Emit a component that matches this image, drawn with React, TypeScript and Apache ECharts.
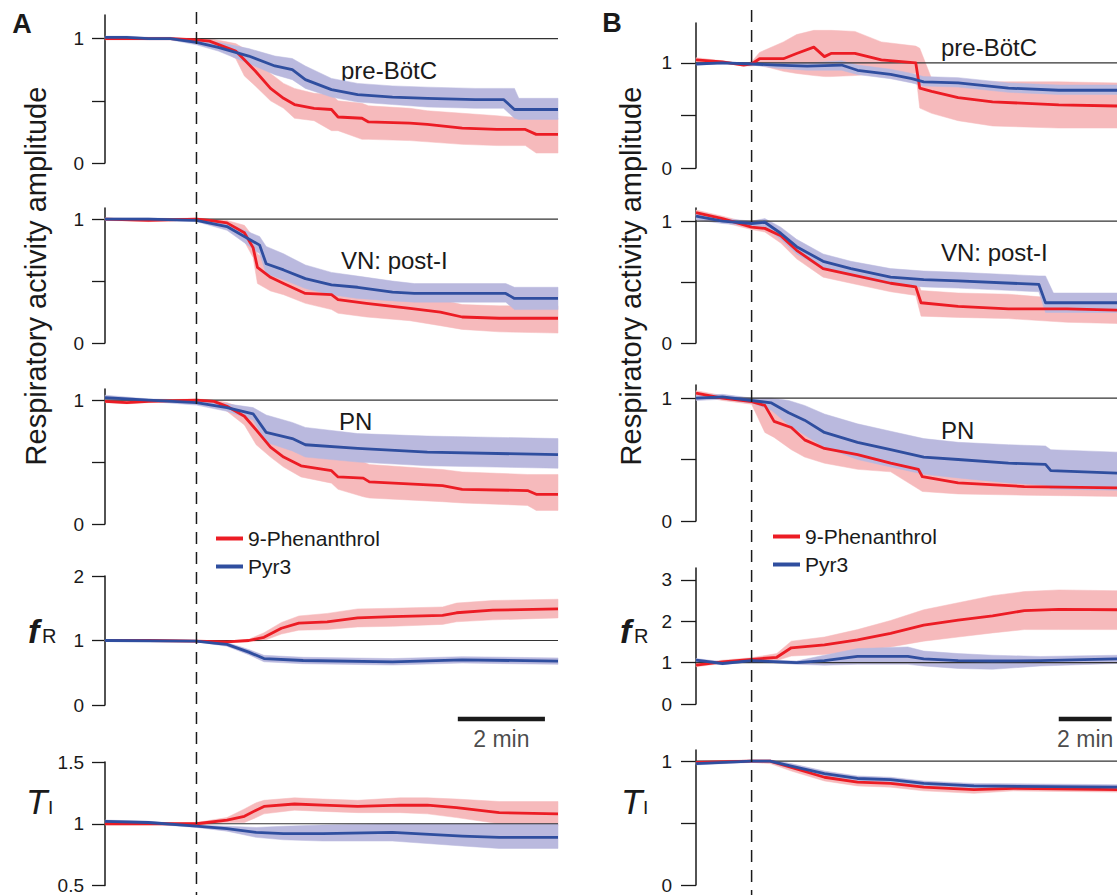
import React, { useEffect, useRef } from "react";
import * as echarts from "echarts";

const FONT = "'Liberation Sans', Arial, Helvetica, sans-serif";
const RED = "#ec1c24";
const BLUE = "#2f4e9f";
const RED_BAND = "#f6babc";
const BLUE_BAND = "#bab9de";
const INK = "#1a1a1a";

const SERIES_NAMES = ["9-Phenanthrol", "Pyr3"];
const PANEL_TITLES = ["pre-BötC", "VN: post-I", "PN"];
const Y_TITLE = "Respiratory activity amplitude";
const SCALE_LABEL = "2 min";
const DRUG_TIME = 2.1; // min
const A_DURATION = 10.4;
const B_DURATION = 15.9;
const A_SCALEBAR = [8.1, 10.1];
const B_SCALEBAR = [13.7, 15.7];

// rows: [time (min), mean, lower, upper]
const A_preBotC_phen = [
  [0, 1.0, 0.99, 1.01], [0.5, 1.0, 0.99, 1.01], [1.0, 1.0, 0.99, 1.01], [1.5, 1.0, 0.99, 1.01],
  [2.1, 0.99, 0.98, 1.0], [2.4, 0.98, 0.95, 1.0], [2.7, 0.94, 0.9, 0.98], [3.0, 0.9, 0.84, 0.96],
  [3.2, 0.83, 0.7, 0.92], [3.45, 0.74, 0.62, 0.86], [3.8, 0.6, 0.5, 0.72], [4.1, 0.52, 0.44, 0.64],
  [4.35, 0.47, 0.36, 0.6], [4.8, 0.44, 0.34, 0.56], [5.2, 0.43, 0.26, 0.55], [5.35, 0.37, 0.26, 0.5],
  [5.9, 0.36, 0.19, 0.48], [6.05, 0.33, 0.19, 0.46], [7.0, 0.32, 0.18, 0.44], [7.4, 0.31, 0.17, 0.42],
  [8.2, 0.28, 0.15, 0.4], [9.0, 0.27, 0.14, 0.38], [9.65, 0.27, 0.14, 0.36], [9.9, 0.23, 0.08, 0.36],
  [10.4, 0.23, 0.08, 0.36],
];
const A_preBotC_pyr3 = [
  [0, 1.01, 1.0, 1.02], [0.5, 1.01, 1.0, 1.02], [1.0, 1.0, 0.99, 1.01], [1.5, 1.0, 0.99, 1.01],
  [2.1, 0.97, 0.95, 0.99], [2.6, 0.93, 0.9, 0.97], [3.3, 0.86, 0.8, 0.92], [3.9, 0.78, 0.71, 0.86],
  [4.3, 0.75, 0.67, 0.84], [4.6, 0.67, 0.6, 0.78], [5.2, 0.59, 0.53, 0.68], [5.8, 0.55, 0.49, 0.64],
  [6.6, 0.53, 0.47, 0.62], [7.4, 0.52, 0.45, 0.61], [8.5, 0.51, 0.44, 0.6], [9.15, 0.51, 0.44, 0.6],
  [9.4, 0.43, 0.36, 0.6], [9.5, 0.43, 0.35, 0.52], [10.4, 0.43, 0.35, 0.52],
];
const A_VN_phen = [
  [0, 1.0, 0.99, 1.01], [1.0, 0.99, 0.98, 1.0], [2.1, 1.0, 0.99, 1.01], [2.4, 0.99, 0.97, 1.0],
  [2.8, 0.97, 0.94, 0.99], [3.2, 0.89, 0.82, 0.95], [3.4, 0.77, 0.69, 0.86], [3.5, 0.61, 0.48, 0.72],
  [3.8, 0.53, 0.42, 0.64], [4.1, 0.48, 0.39, 0.58], [4.6, 0.4, 0.32, 0.5], [5.2, 0.39, 0.27, 0.49],
  [5.35, 0.35, 0.24, 0.46], [6.0, 0.32, 0.21, 0.43], [7.0, 0.28, 0.18, 0.39], [7.7, 0.25, 0.14, 0.35],
  [8.2, 0.21, 0.11, 0.31], [9.05, 0.2, 0.09, 0.3], [10.4, 0.2, 0.08, 0.3],
];
const A_VN_pyr3 = [
  [0, 1.0, 0.99, 1.01], [1.0, 1.0, 0.99, 1.01], [2.1, 0.99, 0.98, 1.0], [2.8, 0.94, 0.91, 0.97],
  [3.2, 0.86, 0.81, 0.91], [3.55, 0.79, 0.72, 0.86], [3.7, 0.64, 0.56, 0.78], [4.1, 0.59, 0.51, 0.72],
  [4.6, 0.52, 0.44, 0.63], [5.2, 0.47, 0.39, 0.57], [5.8, 0.45, 0.36, 0.54], [6.6, 0.41, 0.34, 0.5],
  [7.1, 0.4, 0.33, 0.48], [9.2, 0.4, 0.33, 0.48], [9.4, 0.36, 0.27, 0.45], [10.4, 0.36, 0.27, 0.45],
];
const A_PN_phen = [
  [0, 0.99, 0.98, 1.0], [0.5, 0.98, 0.97, 0.99], [1.0, 0.99, 0.98, 1.0], [2.1, 1.0, 0.99, 1.01],
  [2.5, 0.99, 0.97, 1.0], [2.8, 0.95, 0.91, 0.98], [3.2, 0.87, 0.8, 0.93], [3.47, 0.76, 0.64, 0.86],
  [3.8, 0.62, 0.54, 0.73], [4.1, 0.54, 0.46, 0.66], [4.5, 0.47, 0.38, 0.6], [5.2, 0.43, 0.33, 0.56],
  [5.35, 0.38, 0.28, 0.52], [5.93, 0.37, 0.22, 0.5], [6.07, 0.34, 0.21, 0.48], [7.75, 0.31, 0.18, 0.44],
  [8.2, 0.28, 0.17, 0.42], [9.7, 0.27, 0.15, 0.4], [9.9, 0.24, 0.11, 0.4], [10.4, 0.24, 0.11, 0.4],
];
const A_PN_pyr3 = [
  [0, 1.02, 1.0, 1.04], [1.0, 1.0, 0.99, 1.01], [2.1, 0.98, 0.96, 1.0], [2.8, 0.94, 0.91, 0.97],
  [3.4, 0.89, 0.84, 0.94], [3.7, 0.74, 0.66, 0.88], [4.3, 0.69, 0.59, 0.82], [4.6, 0.64, 0.54, 0.78],
  [5.8, 0.61, 0.5, 0.73], [7.4, 0.58, 0.47, 0.71], [10.4, 0.56, 0.45, 0.69],
];
const A_fR_phen = [
  [0, 1.0, 0.99, 1.01], [1.0, 1.0, 0.99, 1.01], [2.1, 0.99, 0.98, 1.0], [2.8, 0.98, 0.97, 0.99],
  [3.3, 1.0, 0.98, 1.02], [3.65, 1.05, 1.0, 1.12], [4.05, 1.19, 1.1, 1.28], [4.45, 1.27, 1.16, 1.38],
  [5.1, 1.29, 1.17, 1.42], [5.8, 1.35, 1.21, 1.49], [6.6, 1.37, 1.22, 1.5], [7.75, 1.39, 1.25, 1.52],
  [8.07, 1.43, 1.29, 1.58], [8.9, 1.47, 1.32, 1.62], [10.4, 1.49, 1.35, 1.64],
];
const A_fR_pyr3 = [
  [0, 1.0, 0.99, 1.01], [2.1, 0.99, 0.98, 1.0], [2.5, 0.96, 0.94, 0.98], [2.8, 0.94, 0.91, 0.97],
  [3.3, 0.82, 0.78, 0.86], [3.65, 0.72, 0.67, 0.77], [4.55, 0.69, 0.64, 0.74], [6.6, 0.67, 0.62, 0.72],
  [8.2, 0.7, 0.65, 0.75], [10.4, 0.68, 0.63, 0.73],
];
const A_TI_phen = [
  [0, 1.0, 0.99, 1.01], [2.1, 1.0, 0.99, 1.01], [2.8, 1.03, 1.01, 1.05], [3.2, 1.06, 1.01, 1.12],
  [3.47, 1.11, 1.05, 1.17], [3.65, 1.14, 1.08, 1.19], [4.35, 1.16, 1.11, 1.21], [5.0, 1.15, 1.1, 1.2],
  [5.8, 1.14, 1.09, 1.19], [6.77, 1.15, 1.09, 1.21], [7.4, 1.15, 1.08, 1.21], [8.07, 1.13, 1.05, 1.2],
  [9.05, 1.09, 1.0, 1.18], [10.4, 1.08, 0.98, 1.18],
];
const A_TI_pyr3 = [
  [0, 1.02, 1.01, 1.03], [1.0, 1.01, 1.0, 1.02], [2.1, 0.98, 0.97, 0.99], [2.8, 0.96, 0.94, 0.98],
  [3.47, 0.93, 0.89, 0.97], [4.1, 0.92, 0.87, 0.98], [5.0, 0.92, 0.86, 0.99], [6.6, 0.93, 0.86, 1.0],
  [8.2, 0.9, 0.82, 1.0], [9.05, 0.89, 0.8, 1.0], [10.4, 0.89, 0.8, 1.0],
];

const B_preBotC_phen = [
  [0, 1.03, 1.01, 1.05], [1.0, 1.01, 1.0, 1.02], [1.8, 0.98, 0.97, 0.99], [2.1, 0.99, 0.97, 1.01],
  [2.4, 1.04, 0.98, 1.1], [3.3, 1.04, 0.92, 1.2], [3.8, 1.09, 0.9, 1.27], [4.45, 1.15, 0.88, 1.31],
  [4.85, 1.06, 0.87, 1.31], [5.1, 1.09, 0.87, 1.31], [6.0, 1.09, 0.88, 1.3], [7.0, 1.03, 0.9, 1.2],
  [8.3, 1.0, 0.9, 1.16], [8.45, 0.76, 0.57, 1.14], [8.9, 0.73, 0.52, 0.85], [9.9, 0.67, 0.45, 0.83],
  [11.2, 0.63, 0.4, 0.82], [13.7, 0.6, 0.38, 0.82], [15.9, 0.59, 0.38, 0.81],
];
const B_preBotC_pyr3 = [
  [0, 0.99, 0.98, 1.0], [1.0, 1.0, 0.99, 1.01], [2.1, 0.99, 0.98, 1.0], [3.05, 0.98, 0.95, 1.0],
  [4.2, 0.97, 0.93, 1.0], [5.5, 0.98, 0.93, 1.02], [6.1, 0.93, 0.89, 0.98], [7.35, 0.89, 0.85, 0.94],
  [8.15, 0.85, 0.81, 0.9], [8.6, 0.82, 0.78, 0.87], [9.9, 0.81, 0.77, 0.86], [11.8, 0.76, 0.72, 0.81],
  [13.7, 0.74, 0.7, 0.79], [15.9, 0.74, 0.7, 0.79],
];
const B_VN_phen = [
  [0, 1.07, 1.04, 1.09], [1.0, 1.02, 0.99, 1.04], [2.1, 0.95, 0.93, 0.98], [2.6, 0.94, 0.91, 0.98],
  [3.2, 0.88, 0.82, 0.94], [3.8, 0.76, 0.69, 0.83], [4.8, 0.61, 0.54, 0.68], [5.85, 0.56, 0.49, 0.63],
  [7.35, 0.49, 0.42, 0.57], [8.3, 0.46, 0.39, 0.54], [8.5, 0.33, 0.22, 0.43], [9.9, 0.3, 0.21, 0.41],
  [11.8, 0.28, 0.2, 0.4], [14.0, 0.28, 0.17, 0.36], [15.9, 0.27, 0.16, 0.36],
];
const B_VN_pyr3 = [
  [0, 1.04, 1.01, 1.07], [1.0, 1.0, 0.98, 1.02], [2.1, 0.98, 0.96, 1.0], [2.6, 0.99, 0.95, 1.02],
  [3.2, 0.9, 0.85, 0.95], [3.8, 0.79, 0.73, 0.85], [4.8, 0.67, 0.61, 0.73], [5.85, 0.61, 0.55, 0.67],
  [7.35, 0.54, 0.48, 0.61], [8.6, 0.52, 0.46, 0.59], [9.9, 0.51, 0.45, 0.58], [12.95, 0.48, 0.42, 0.55],
  [13.2, 0.33, 0.25, 0.55], [13.5, 0.33, 0.25, 0.41], [15.9, 0.33, 0.25, 0.41],
];
const B_PN_phen = [
  [0, 1.04, 1.02, 1.06], [1.0, 1.0, 0.98, 1.02], [2.1, 0.97, 0.95, 0.99], [2.6, 0.94, 0.72, 0.98],
  [2.95, 0.81, 0.68, 0.92], [3.6, 0.76, 0.58, 0.88], [4.1, 0.66, 0.52, 0.79], [4.85, 0.59, 0.47, 0.71],
  [6.1, 0.54, 0.42, 0.65], [7.35, 0.47, 0.4, 0.56], [8.4, 0.42, 0.26, 0.52], [8.55, 0.36, 0.24, 0.45],
  [9.9, 0.31, 0.22, 0.4], [12.4, 0.28, 0.21, 0.36], [15.9, 0.27, 0.2, 0.35],
];
const B_PN_pyr3 = [
  [0, 1.0, 0.98, 1.02], [1.0, 1.01, 0.99, 1.03], [2.1, 0.98, 0.96, 1.0], [2.85, 0.96, 0.9, 1.0],
  [3.5, 0.88, 0.78, 0.98], [4.1, 0.82, 0.7, 0.94], [4.85, 0.72, 0.6, 0.87], [6.1, 0.64, 0.5, 0.79],
  [7.35, 0.58, 0.44, 0.73], [8.6, 0.52, 0.38, 0.67], [9.9, 0.5, 0.35, 0.64], [11.8, 0.47, 0.31, 0.62],
  [13.2, 0.46, 0.29, 0.61], [13.4, 0.41, 0.26, 0.58], [15.9, 0.39, 0.25, 0.56],
];
const B_fR_phen = [
  [0, 0.94, 0.9, 0.98], [1.0, 1.02, 0.98, 1.06], [2.1, 1.08, 1.04, 1.12], [3.05, 1.13, 1.05, 1.22],
  [3.6, 1.36, 1.16, 1.52], [4.85, 1.43, 1.2, 1.62], [6.1, 1.55, 1.28, 1.8], [7.35, 1.71, 1.38, 2.02],
  [8.6, 1.91, 1.52, 2.28], [9.9, 2.03, 1.62, 2.45], [11.2, 2.13, 1.72, 2.62], [12.4, 2.26, 1.8, 2.72],
  [13.7, 2.29, 1.8, 2.76], [15.9, 2.28, 1.8, 2.74],
];
const B_fR_pyr3 = [
  [0, 1.06, 1.02, 1.1], [1.0, 0.98, 0.95, 1.02], [2.1, 1.05, 1.02, 1.08], [3.8, 1.0, 0.96, 1.04],
  [4.85, 1.05, 0.94, 1.18], [6.1, 1.15, 0.96, 1.34], [8.0, 1.15, 0.96, 1.38], [8.6, 1.09, 0.92, 1.28],
  [9.9, 1.05, 0.86, 1.22], [11.2, 1.04, 0.84, 1.18], [13.0, 1.05, 0.92, 1.15], [15.9, 1.09, 0.98, 1.18],
];
const B_TI_phen = [
  [0, 0.99, 0.98, 1.0], [2.1, 1.0, 0.99, 1.01], [2.8, 1.0, 0.98, 1.01], [3.6, 0.95, 0.92, 0.97],
  [4.85, 0.87, 0.84, 0.9], [6.1, 0.83, 0.8, 0.86], [7.35, 0.82, 0.79, 0.84], [8.6, 0.79, 0.76, 0.82],
  [10.5, 0.77, 0.74, 0.8], [12.0, 0.78, 0.76, 0.8], [15.9, 0.77, 0.75, 0.79],
];
const B_TI_pyr3 = [
  [0, 0.98, 0.97, 0.99], [2.1, 1.0, 0.99, 1.01], [2.8, 1.0, 0.99, 1.01], [3.6, 0.96, 0.94, 0.98],
  [4.85, 0.9, 0.88, 0.92], [6.1, 0.86, 0.84, 0.88], [7.35, 0.85, 0.83, 0.87], [8.6, 0.82, 0.8, 0.84],
  [10.5, 0.8, 0.78, 0.82], [15.9, 0.79, 0.77, 0.81],
];

// layout
const COLS = [
  { left: 105, width: 453, duration: A_DURATION, tickLen: 13, labelMargin: 21, scaleBar: A_SCALEBAR },
  { left: 696, width: 421, duration: B_DURATION, tickLen: 15, labelMargin: 24, scaleBar: B_SCALEBAR },
];

const PANELS = [
  { col: 0, top: 15, height: 148, min: 0, max: 1.19, ticks: [0, 0.5, 1], labels: [0, 1], red: A_preBotC_phen, blue: A_preBotC_pyr3 },
  { col: 0, top: 208, height: 135, min: 0, max: 1.09, ticks: [0, 0.5, 1], labels: [0, 1], red: A_VN_phen, blue: A_VN_pyr3 },
  { col: 0, top: 389, height: 135, min: 0, max: 1.09, ticks: [0, 0.5, 1], labels: [0, 1], red: A_PN_phen, blue: A_PN_pyr3 },
  { col: 0, top: 576, height: 129, min: 0, max: 2, ticks: [0, 1, 2], labels: [0, 1, 2], red: A_fR_phen, blue: A_fR_pyr3 },
  { col: 0, top: 762, height: 124, min: 0.5, max: 1.5, ticks: [0.5, 1, 1.5], labels: [0.5, 1, 1.5], red: A_TI_phen, blue: A_TI_pyr3 },
  { col: 1, top: 23, height: 145, min: 0, max: 1.38, ticks: [0, 0.5, 1], labels: [0, 1], red: B_preBotC_phen, blue: B_preBotC_pyr3 },
  { col: 1, top: 208, height: 135, min: 0, max: 1.107, ticks: [0, 0.5, 1], labels: [0, 1], red: B_VN_phen, blue: B_VN_pyr3 },
  { col: 1, top: 385, height: 136, min: 0, max: 1.106, ticks: [0, 0.5, 1], labels: [0, 1], red: B_PN_phen, blue: B_PN_pyr3 },
  { col: 1, top: 568, height: 136, min: 0, max: 3.29, ticks: [0, 1, 2, 3], labels: [0, 1, 2, 3], red: B_fR_phen, blue: B_fR_pyr3 },
  { col: 1, top: 750, height: 135, min: 0, max: 1.09, ticks: [0, 0.5, 1], labels: [0, 1], red: B_TI_phen, blue: B_TI_pyr3 },
];

function bandSeries(rows: number[][], color: string, gi: number) {
  return {
    type: "custom",
    xAxisIndex: gi,
    yAxisIndex: gi,
    silent: true,
    z: 1,
    data: rows.map((r) => [r[0], r[2], r[3]]),
    encode: { x: 0, y: [1, 2] },
    renderItem: (params: any, api: any) => {
      if (params.dataIndex !== 0) return { type: "group", children: [] };
      const upper = rows.map((r) => api.coord([r[0], r[3]]));
      const lower = rows.map((r) => api.coord([r[0], r[2]])).reverse();
      return {
        type: "polygon",
        shape: { points: upper.concat(lower) },
        style: { fill: color, stroke: color, lineWidth: 0.5 },
      };
    },
  };
}

function meanSeries(rows: number[][], color: string, name: string, gi: number) {
  return {
    type: "line",
    name,
    xAxisIndex: gi,
    yAxisIndex: gi,
    data: rows.map((r) => [r[0], r[1]]),
    showSymbol: false,
    symbol: "none",
    silent: true,
    z: 3,
    itemStyle: { color },
    lineStyle: { color, width: 2.8, join: "round" },
  };
}

function buildOption() {
  const grid: any[] = [];
  const xAxis: any[] = [];
  const yAxis: any[] = [];
  const series: any[] = [];

  PANELS.forEach((p, i) => {
    const c = COLS[p.col];
    grid.push({ left: c.left, top: p.top, width: c.width, height: p.height });
    xAxis.push({ type: "value", gridIndex: i, min: 0, max: c.duration, show: false });
    yAxis.push({
      type: "value",
      gridIndex: i,
      min: p.min,
      max: p.max,
      axisLine: { show: true, onZero: false, lineStyle: { color: INK, width: 1.5 } },
      axisTick: { show: true, inside: false, length: c.tickLen, customValues: p.ticks, lineStyle: { color: INK, width: 1.3 } },
      axisLabel: {
        show: true,
        customValues: p.labels,
        formatter: (v: number) => String(v),
        margin: c.labelMargin,
        fontSize: 19,
        color: INK,
        fontFamily: FONT,
      },
      splitLine: { show: false },
    });
    series.push(bandSeries(p.red, RED_BAND, i));
    series.push(bandSeries(p.blue, BLUE_BAND, i));
    series.push({
      type: "line",
      xAxisIndex: i,
      yAxisIndex: i,
      data: [[0, 1], [c.duration, 1]],
      showSymbol: false,
      symbol: "none",
      silent: true,
      z: 2,
      lineStyle: { color: "#333", width: 1.2 },
    });
    series.push(meanSeries(p.red, RED, SERIES_NAMES[0], i));
    series.push(meanSeries(p.blue, BLUE, SERIES_NAMES[1], i));
  });

  // overlay grids (one per column) for the drug-onset line and the time scale bar
  COLS.forEach((c, k) => {
    const gi = PANELS.length + k;
    grid.push({ left: c.left, top: 0, width: c.width, height: 895 });
    xAxis.push({ type: "value", gridIndex: gi, min: 0, max: c.duration, show: false });
    yAxis.push({ type: "value", gridIndex: gi, min: 0, max: 895, inverse: true, show: false });
    series.push({
      type: "line",
      xAxisIndex: gi,
      yAxisIndex: gi,
      data: [[DRUG_TIME, k === 0 ? 12 : 10], [DRUG_TIME, 895]],
      showSymbol: false,
      symbol: "none",
      silent: true,
      z: 4,
      lineStyle: { color: INK, width: 1.5, type: [12, 8] },
    });
    series.push({
      type: "line",
      xAxisIndex: gi,
      yAxisIndex: gi,
      data: [[c.scaleBar[0], 719], [c.scaleBar[1], 719]],
      showSymbol: false,
      symbol: "none",
      silent: true,
      z: 4,
      lineStyle: { color: INK, width: 4.5, cap: "butt" },
    });
    series.push({
      type: "scatter",
      xAxisIndex: gi,
      yAxisIndex: gi,
      data: [[(c.scaleBar[0] + c.scaleBar[1]) / 2, 739]],
      symbolSize: 1,
      silent: true,
      itemStyle: { color: "transparent" },
      label: {
        show: true,
        position: "inside",
        formatter: SCALE_LABEL,
        fontSize: 23,
        color: INK,
        fontFamily: FONT,
      },
    });
  });

  const legendBase = {
    orient: "vertical",
    data: SERIES_NAMES,
    icon: "rect",
    itemWidth: 27,
    itemHeight: 4,
    itemGap: 7,
    padding: 0,
    selectedMode: false,
    textStyle: { fontSize: 21, color: INK, fontFamily: FONT },
  };

  const txt = (x: number, y: number, text: string, extra: any = {}, styleExtra: any = {}) => ({
    type: "text",
    x,
    y,
    silent: true,
    ...extra,
    style: {
      text,
      fill: INK,
      fontFamily: FONT,
      fontSize: 24,
      textAlign: "left",
      textVerticalAlign: "middle",
      ...styleExtra,
    },
  });

  const graphic: any[] = [
    txt(22, 24, "A", {}, { fontSize: 27, fontWeight: "bold", textAlign: "center" }),
    txt(612, 23, "B", {}, { fontSize: 27, fontWeight: "bold", textAlign: "center" }),
    txt(36, 276, Y_TITLE, { rotation: Math.PI / 2 }, { fontSize: 29, textAlign: "center" }),
    txt(631, 276, Y_TITLE, { rotation: Math.PI / 2 }, { fontSize: 29, textAlign: "center" }),
    txt(341, 70, PANEL_TITLES[0]),
    txt(341, 260, PANEL_TITLES[1]),
    txt(339, 421, PANEL_TITLES[2]),
    txt(941, 47, PANEL_TITLES[0]),
    txt(941, 252, PANEL_TITLES[1]),
    txt(941, 430, PANEL_TITLES[2]),
    // f_R and T_I labels
    txt(28, 631, "f", {}, { fontSize: 34, fontStyle: "italic", fontWeight: "bold" }),
    txt(42, 636, "R", {}, { fontSize: 20 }),
    txt(620, 631, "f", {}, { fontSize: 34, fontStyle: "italic", fontWeight: "bold" }),
    txt(634, 636, "R", {}, { fontSize: 20 }),
    txt(26, 801, "T", {}, { fontSize: 35, fontStyle: "italic" }),
    txt(48, 807, "I", {}, { fontSize: 19 }),
    txt(621, 801, "T", {}, { fontSize: 35, fontStyle: "italic" }),
    txt(643, 807, "I", {}, { fontSize: 19 }),
  ];

  return {
    animation: false,
    backgroundColor: "#ffffff",
    textStyle: { fontFamily: FONT },
    grid,
    xAxis,
    yAxis,
    series,
    legend: [
      { ...legendBase, left: 216, top: 528 },
      { ...legendBase, left: 773, top: 526 },
    ],
    graphic,
  };
}

export default function App() {
  const ref = useRef<HTMLDivElement>(null);
  useEffect(() => {
    if (!ref.current) return;
    const chart = echarts.init(ref.current, undefined, { renderer: "svg" });
    chart.setOption(buildOption() as any);
    return () => chart.dispose();
  }, []);
  return (
    <div
      ref={ref}
      style={{ position: "absolute", left: 0, top: 0, width: 1117, height: 895, background: "#fff" }}
    />
  );
}
